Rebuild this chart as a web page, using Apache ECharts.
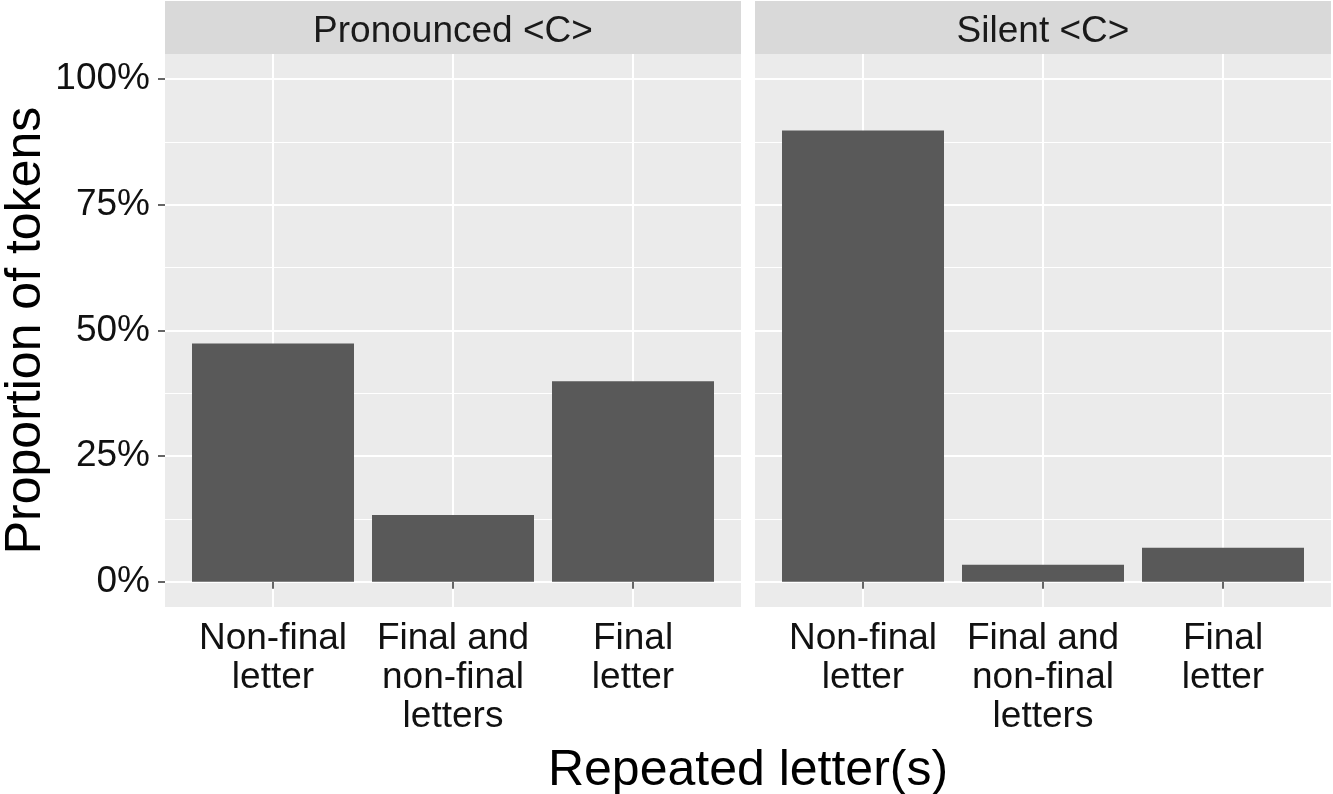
<!DOCTYPE html>
<html>
<head>
<meta charset="utf-8">
<script src="https://cdn.jsdelivr.net/npm/echarts@6/dist/echarts.min.js"></script>
<style>
  html, body { margin: 0; padding: 0; background: #fff; }
  #chart { width: 1333px; height: 794px; }
</style>
</head>
<body>
<div id="chart"></div>
<script>
// data
var categories = ["Non-final\nletter", "Final and\nnon-final\nletters", "Final\nletter"];
var panels = ["Pronounced <C>", "Silent <C>"];
var pronounced = [0.474, 0.133, 0.399];
var silent = [0.898, 0.034, 0.068];
var yTicks = [0, 0.25, 0.5, 0.75, 1];
var yMinor = [0.125, 0.375, 0.625, 0.875];
var xPos = [1, 2, 3];

var chartDom = document.getElementById("chart");
var myChart = echarts.init(chartDom);

var font = "'Liberation Sans', Arial, sans-serif";
var panelTop = 54, panelBottom = 607, panelW = 576;
var panelLefts = [165, 755];
var stripTop = 1;
var xMin = 0.4, xMax = 3.6;
var barW = 0.9 * panelW / (xMax - xMin);

function grid(left) {
  return {
    left: left, top: panelTop, width: panelW, height: panelBottom - panelTop,
    show: true, backgroundColor: "#ebebeb", borderWidth: 0,
    containLabel: false, outerBoundsMode: "none"
  };
}

function xAxis(i) {
  return {
    type: "value", gridIndex: i, min: xMin, max: xMax,
    axisLine: { show: false },
    axisTick: { show: true, length: 7, customValues: xPos, lineStyle: { color: "#333", width: 1.5 } },
    axisLabel: {
      customValues: xPos, margin: 12, color: "#111", fontFamily: font, fontSize: 37, lineHeight: 39,
      formatter: function (v) { return categories[Math.round(v) - 1]; }
    },
    splitLine: { show: true, lineStyle: { color: "#fff", width: 2 } }
  };
}

function yMajor(i, labels) {
  return {
    type: "value", gridIndex: i, min: -0.05, max: 1.05,
    axisLine: { show: false },
    axisTick: { show: labels, length: 7, customValues: yTicks, lineStyle: { color: "#333", width: 1.5 } },
    axisLabel: {
      show: labels, customValues: yTicks, margin: 15, color: "#111", fontFamily: font, fontSize: 37,
      formatter: function (v) { return Math.round(v * 100) + "%"; }
    },
    splitLine: { show: true, lineStyle: { color: "#fff", width: 2 } },
    name: labels ? "Proportion of tokens" : "",
    nameLocation: "middle", nameGap: 114,
    nameTextStyle: { fontFamily: font, fontSize: 50, color: "#000" }
  };
}

function yMinorAxis(i) {
  return {
    type: "value", gridIndex: i, min: -0.05, max: 1.05,
    axisLine: { show: false },
    axisTick: { show: false, customValues: yMinor },
    axisLabel: { show: false },
    splitLine: { show: true, lineStyle: { color: "#fff", width: 1 } }
  };
}

function toPoints(vals) {
  return vals.map(function (v, k) { return [xPos[k], v]; });
}

var option = {
  animation: false,
  backgroundColor: "#fff",
  grid: [grid(panelLefts[0]), grid(panelLefts[1])],
  xAxis: [xAxis(0), xAxis(1)],
  yAxis: [yMajor(0, true), yMinorAxis(0), yMajor(1, false), yMinorAxis(1)],
  series: [
    { type: "bar", xAxisIndex: 0, yAxisIndex: 0, barWidth: barW, data: toPoints(pronounced),
      itemStyle: { color: "#595959" }, z: 3 },
    { type: "bar", xAxisIndex: 1, yAxisIndex: 2, barWidth: barW, data: toPoints(silent),
      itemStyle: { color: "#595959" }, z: 3 }
  ],
  graphic: [
    { type: "rect", left: panelLefts[0], top: stripTop,
      shape: { width: panelW, height: panelTop - stripTop }, style: { fill: "#d9d9d9" } },
    { type: "rect", left: panelLefts[1], top: stripTop,
      shape: { width: panelW, height: panelTop - stripTop }, style: { fill: "#d9d9d9" } },
    { type: "text", x: panelLefts[0] + panelW / 2, y: (stripTop + panelTop) / 2 + 4,
      style: { text: panels[0], font: "37px " + font, fill: "#1a1a1a", align: "center", verticalAlign: "middle" } },
    { type: "text", x: panelLefts[1] + panelW / 2, y: (stripTop + panelTop) / 2 + 4,
      style: { text: panels[1], font: "37px " + font, fill: "#1a1a1a", align: "center", verticalAlign: "middle" } },
    { type: "text", x: (panelLefts[0] + panelLefts[1] + panelW) / 2, y: 771,
      style: { text: "Repeated letter(s)", font: "50px " + font, fill: "#000", align: "center", verticalAlign: "middle" } }
  ]
};

myChart.setOption(option);
window.addEventListener("resize", myChart.resize);
</script>
</body>
</html>
